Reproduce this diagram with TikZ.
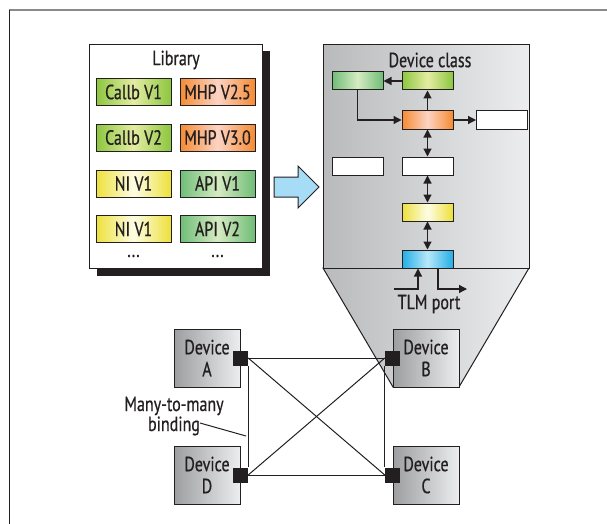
\documentclass[tikz,border=0pt]{standalone}
\usepackage{fontspec}
\setmainfont[FakeStretch=0.78,FakeBold=0.6]{PT Sans}
\usetikzlibrary{arrows.meta,calc,shadows}
\definecolor{ln}{HTML}{231F20}
\definecolor{cg}{HTML}{8CC63F}
\definecolor{cgl}{HTML}{E4EDA2}
\definecolor{mo}{HTML}{F58B33}
\definecolor{mol}{HTML}{FCD3C3}
\definecolor{ny}{HTML}{EDE03C}
\definecolor{nyl}{HTML}{FDFDE4}
\definecolor{ag}{HTML}{6FBD77}
\definecolor{agl}{HTML}{D6EBC2}
\definecolor{bb}{HTML}{22AEE6}
\definecolor{bbl}{HTML}{B8E7FA}
\definecolor{arrblue}{HTML}{A6DCF5}
\definecolor{gdark}{HTML}{B8BABC}
\definecolor{glight}{HTML}{ECEDEE}
\definecolor{frame}{HTML}{8A8A8A}
\begin{document}
\begin{tikzpicture}[x=1pt,y=-1pt,
  font=\fontsize{20.5}{22}\selectfont, text=ln,
  libbox/.style={draw=ln, line width=1pt, minimum width=75pt, minimum height=27pt, inner sep=0pt},
  callb/.style={libbox, left color=cg, right color=cg, middle color=cgl},
  mhp/.style={libbox, left color=mo, right color=mo, middle color=mol},
  ni/.style={libbox, left color=ny, right color=ny, middle color=nyl},
  api/.style={libbox, left color=ag, right color=ag, middle color=agl},
  sbox/.style={draw=ln, line width=1pt, minimum width=51pt, minimum height=18pt, inner sep=0pt},
  dev/.style={draw=ln, line width=1pt, minimum width=66pt, minimum height=58pt, inner sep=0pt,
    left color=gdark!85!black, right color=glight, align=center, font=\fontsize{20.5}{22}\selectfont},
  port/.style={fill=ln, minimum size=15pt, inner sep=0pt},
  dots/.style={inner sep=0pt},
  arr/.style={draw=ln, line width=1.2pt, -{Triangle[length=8pt,width=8pt]}},
  darr/.style={draw=ln, line width=1.2pt, {Triangle[length=8pt,width=8pt]}-{Triangle[length=8pt,width=8pt]}},
  net/.style={draw=ln, line width=1pt}
]
\useasboundingbox (0,0) rectangle (607,524);
% frame
\draw[frame, line width=1.3pt] (9,10) -- (607,10);
\draw[ln, line width=1pt] (9,10) -- (9,524);

% library
\node[draw=ln, line width=1pt, fill=white, minimum width=173pt, minimum height=224pt, inner sep=0pt,
  anchor=north west, drop shadow={shadow xshift=7pt, shadow yshift=-7pt, fill=ln, opacity=1}] (lib) at (89,44) {};
\node (libt) at (176,60) {Library};
\node[callb] (c1) at (133.5,92) {Callb V1};
\node[mhp]   (m1) at (217.5,92) {MHP V2.5};
\node[callb] (c2) at (133.5,137.5) {Callb V2};
\node[mhp]   (m2) at (217.5,137.5) {MHP V3.0};
\node[ni]    (n1) at (133.5,183.5) {NI V1};
\node[api]   (a1) at (217.5,183.5) {API V1};
\node[ni]    (n2) at (133.5,229) {NI V1};
\node[api]   (a2) at (217.5,229) {API V2};
\node[dots] (d1) at (133.5,256) {...};
\node[dots] (d2) at (217.5,256) {...};

% big arrow
\draw[draw=ln, line width=1pt, fill=arrblue] (274,177) -- (298,177) -- (298,166) -- (319,187) -- (298,208) -- (298,197) -- (274,197) -- cycle;

% funnel
\coordinate (fl) at (393,387);
\coordinate (fr) at (459,387);
\draw[draw=ln, line width=1pt, left color=gdark, right color=glight] (323,268) -- (529,268) -- (fr) -- (fl) -- cycle;

% device class
\node[draw=ln, line width=1pt, left color=gdark, right color=glight, minimum width=206pt, minimum height=224pt,
  inner sep=0pt, anchor=north west] (dc) at (323,44) {};
\node (dct) at (430,60) {Device class};
\node[sbox, left color=ag, right color=ag, middle color=agl] (g1) at (357.5,81) {};
\node[sbox, left color=cg, right color=cg, middle color=cgl] (g2) at (427.5,81) {};
\node[sbox, left color=mo, right color=mo, middle color=mol] (or) at (427.5,120) {};
\node[sbox, fill=white] (wr) at (502,120) {};
\node[sbox, fill=white] (wl) at (357.5,166) {};
\node[sbox, fill=white] (wc) at (427.5,166) {};
\node[sbox, left color=ny, right color=ny, middle color=nyl] (ye) at (427.5,212) {};
\node[sbox, left color=bb, right color=bb, middle color=bbl] (bl) at (427.5,259) {};
\draw[arr] (g2) -- (g1);
\draw[arr] (or) -- (g2);
\draw[arr] (g1.south) |- (or.west);
\draw[arr] (or) -- (wr);
\draw[darr] (or) -- (wc);
\draw[darr] (wc) -- (ye);
\draw[darr] (ye) -- (bl);
\coordinate (tin) at (394,289);
\coordinate (tout) at (467,289);
\draw[arr] (tin) -| ([xshift=-9.5pt]bl.south);
\draw[arr] ([xshift=10.5pt]bl.south) |- (tout);
\node (tlm) at (429,304) {TLM port};

% devices
\node[dev] (A) at (207,358) {Device\\A};
\node[dev] (B) at (426,358) {Device\\B};
\node[dev] (D) at (207,475) {Device\\D};
\node[dev] (C) at (426,475) {Device\\C};
\node[port] (Ap) at (A.east) {};
\node[port] (Bp) at (B.west) {};
\node[port] (Dp) at (D.east) {};
\node[port] (Cp) at (C.west) {};
\draw[net] (Ap.east) -- (Bp.west);
\draw[net] (Dp.east) -- (Cp.west);
\draw[net] (Ap.south east) -- (Dp.north east);
\draw[net] (Bp.south west) -- (Cp.north west);
\draw[net] (Ap.east) -- (Cp.west);
\draw[net] (Dp.east) -- (Bp.west);
\node[align=center, font=\fontsize{20.5}{20}\selectfont] (mm) at (174,416) {Many-to-many\\binding};
\coordinate (lead1) at (200,423);
\coordinate (lead2) at (246,436);
\draw[net] (lead1) -- (lead2);
\end{tikzpicture}
\end{document}
